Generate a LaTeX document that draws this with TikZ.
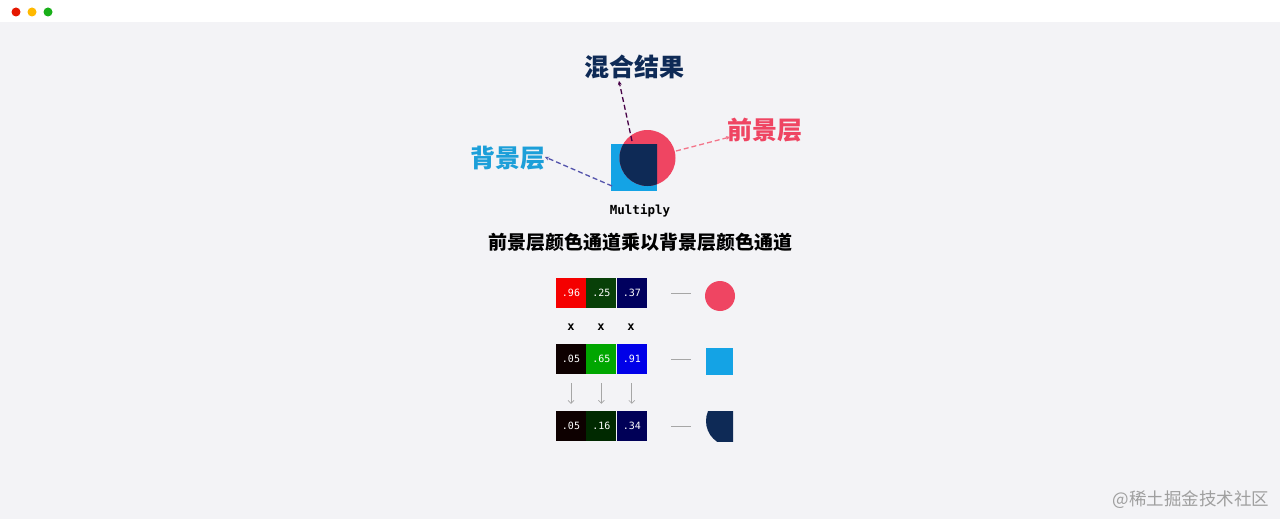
\documentclass[tikz,border=0pt]{standalone}
\usepackage{fontspec}
\setmainfont{Liberation Sans}
\newfontfamily\cjk{Noto Sans CJK SC}
\newfontfamily\mono{DejaVu Sans Mono}
\usetikzlibrary{arrows.meta,positioning}
\definecolor{fgred}{HTML}{EF4562}
\definecolor{bgblue}{HTML}{14A3E5}
\definecolor{bgtext}{HTML}{1C9FD9}
\definecolor{mixnavy}{HTML}{0E2A56}
\definecolor{pagegray}{HTML}{F3F3F6}

\begin{document}
\begin{tikzpicture}[x=1pt,y=-1pt,
    chan/.style={minimum width=30pt,minimum height=30pt,inner sep=0pt,text=white,
      font=\mono\fontsize{10}{10}\selectfont},
    times/.style={font=\mono\bfseries\fontsize{12}{12}\selectfont},
    lbl/.style={font=\cjk\bfseries\fontsize{25}{25}\selectfont},
    pointer/.style={dash pattern=on 5pt off 3pt,line width=1.3pt,-{Stealth[length=4pt,width=4pt]}},
    link/.style={draw=gray!70,line width=0.7pt}]
    % window
    \useasboundingbox (0,0) rectangle (1280,519);
    \fill [pagegray] (0,0) rectangle (1280,519);
    \fill [white] (0,0) rectangle (1280,22);
    \fill [red!80!orange!90!black] (16,12) circle (4.5);
    \fill [orange!55!yellow] (32,12) circle (4.5);
    \fill [green!65!black!90!white] (48,12) circle (4.5);

    % blend demo
    \fill [bgblue] (611,144) rectangle (657,191);
    \fill [fgred] (647.5,158) circle (28);
    \begin{scope}
      \clip (611,144) rectangle (657,191);
      \fill [mixnavy] (647.5,158) circle (28);
    \end{scope}
    \node[lbl,text=mixnavy] (mix) at (634,67) {混合结果};
    \node[lbl,text=fgred] (fg) at (765,130) {前景层};
    \node[lbl,text=bgtext] (bg) at (508,158) {背景层};
    \coordinate (mixfrom) at (632,141);
    \coordinate (mixto) at (619,81);
    \coordinate (fgfrom) at (676,151);
    \coordinate (fgto) at (730,137);
    \coordinate (bgfrom) at (612,186);
    \coordinate (bgto) at (545,157);
    \draw [pointer,color=violet!55!black] (mixfrom)--(mixto);
    \draw [pointer,color=fgred!75!white] (fgfrom)--(fgto);
    \draw [pointer,color=blue!35!gray] (bgfrom)--(bgto);
    \node[font=\mono\bfseries\fontsize{12.5}{13}\selectfont] (mode) at (640,211) {Multiply};
    \node[font=\cjk\bfseries\fontsize{19}{19}\selectfont] (title) at (640,242) {前景层颜色通道乘以背景层颜色通道};

    % foreground channels
    \node[chan,fill={rgb,255:red,245;green,0;blue,0}] (fr) at (571,293) {.96};
    \node[chan,fill={rgb,255:red,8;green,64;blue,8},right=0pt of fr] (fgc) {.25};
    \node[chan,fill={rgb,255:red,0;green,0;blue,94},right=0pt of fgc] (fb) {.37};
    % background channels
    \node[chan,fill={rgb,255:red,13;green,0;blue,0}] (br) at (571,359) {.05};
    \node[chan,fill={rgb,255:red,0;green,166;blue,0},right=0pt of br] (bgc) {.65};
    \node[chan,fill={rgb,255:red,0;green,0;blue,232},right=0pt of bgc] (bb) {.91};
    % result channels
    \node[chan,fill={rgb,255:red,13;green,0;blue,0}] (rr) at (571,426) {.05};
    \node[chan,fill={rgb,255:red,0;green,41;blue,0},right=0pt of rr] (rgc) {.16};
    \node[chan,fill={rgb,255:red,0;green,0;blue,87},right=0pt of rgc] (rb) {.34};

    \node[times] (x1) at (571,327) {x};
    \node[times] (x2) at (601,327) {x};
    \node[times] (x3) at (631,327) {x};
    \draw [link,-{Straight Barb[length=3pt,width=6pt]},shorten <=9pt,shorten >=7pt] (br.south)--(rr.north);
    \draw [link,-{Straight Barb[length=3pt,width=6pt]},shorten <=9pt,shorten >=7pt] (bgc.south)--(rgc.north);
    \draw [link,-{Straight Barb[length=3pt,width=6pt]},shorten <=9pt,shorten >=7pt] (bb.south)--(rb.north);

    % swatches
    \node[circle,fill=fgred,minimum size=30pt,inner sep=0pt] (fgicon) at (720,296) {};
    \node[fill=bgblue,minimum size=27pt,inner sep=0pt] (bgicon) at (719.5,361.5) {};
    \coordinate (mixicon) at (706,426);
    \begin{scope}
      \clip (706,411) rectangle (733,441);
      \fill [mixnavy] (731,421) circle (25);
    \end{scope}
    \draw [link,shorten <=24pt,shorten >=29pt] (fb.east)--(fgicon.center |- fb.east);
    \draw [link,shorten <=24pt,shorten >=15pt] (bb.east)--(bgicon.west |- bb.east);
    \draw [link,shorten <=24pt,shorten >=15pt] (rb.east)--(mixicon);

    \node[font=\cjk\fontsize{17.5}{18}\selectfont,text=gray!75,anchor=east] (mark) at (1273,500) {@稀土掘金技术社区};
\end{tikzpicture}
\end{document}
